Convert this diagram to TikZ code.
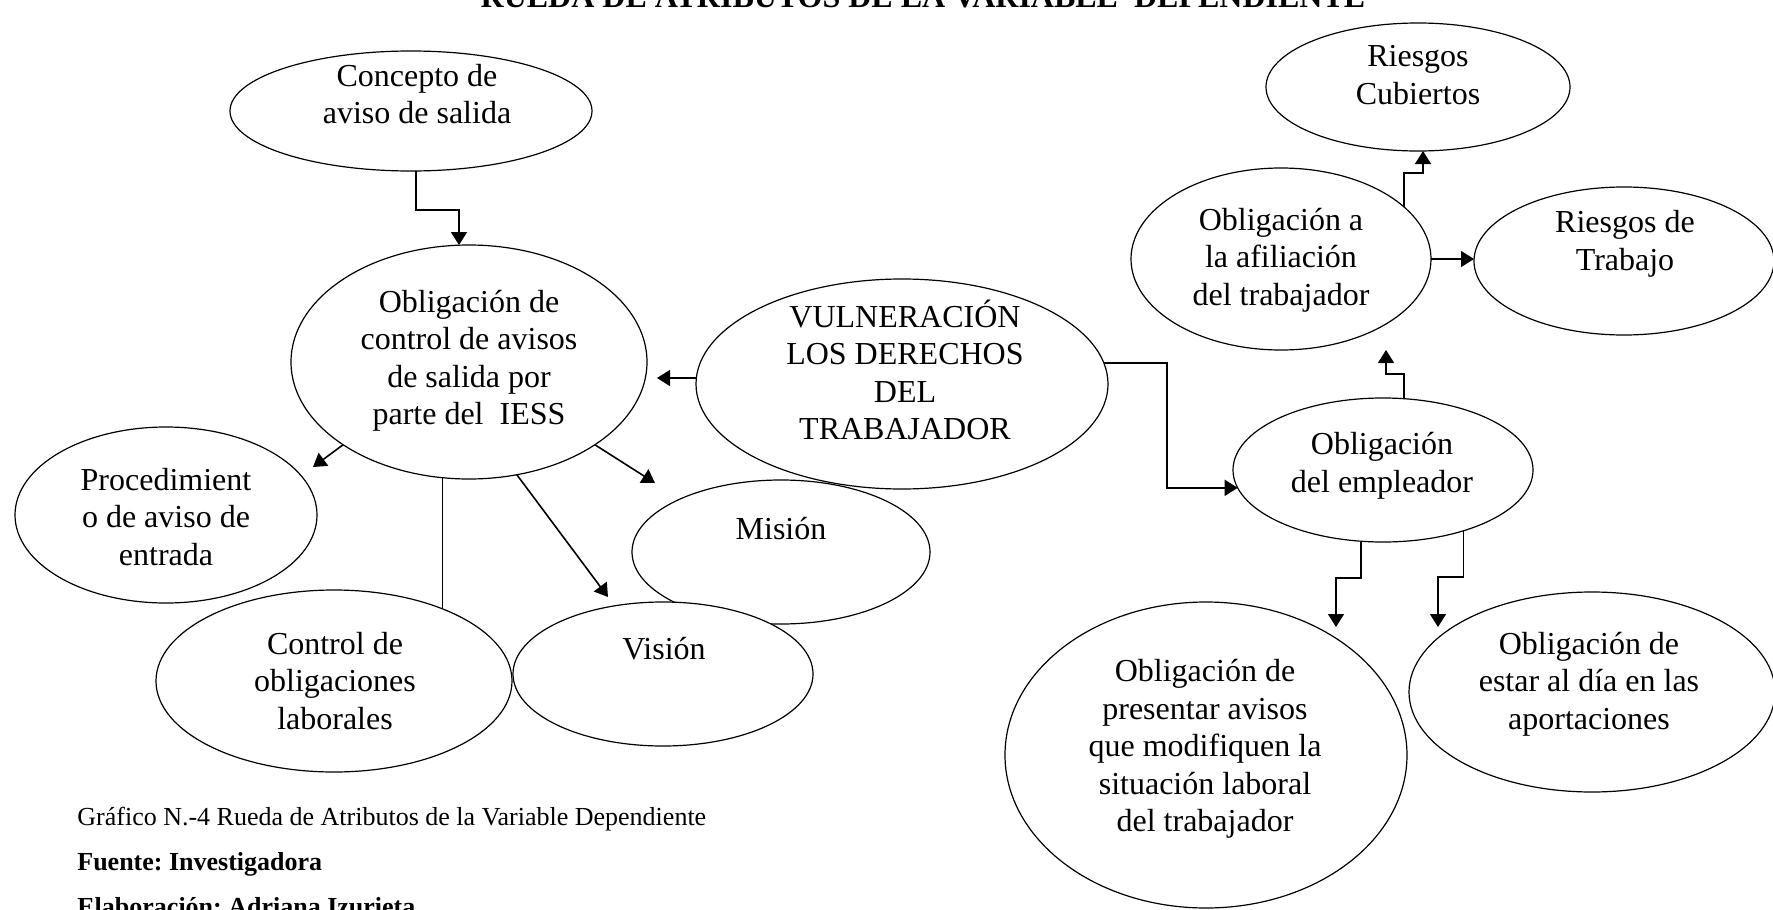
\documentclass[tikz,border=0pt]{standalone}
\usepackage{fontspec}
\setmainfont{Liberation Serif}
\usetikzlibrary{shapes.geometric,arrows.meta,calc}
\frenchspacing

\begin{document}
\begin{tikzpicture}[x=0.5pt,y=0.5pt,yscale=-1,xscale=1,
    oval/.style={ellipse,draw,fill=white,line width=0.6pt,inner sep=0pt,outer sep=0pt},
    txt/.style={align=center,inner sep=0pt,font=\fontsize{16}{18.75}\selectfont},
    conn/.style={line width=0.8pt,-{Triangle[length=6.5pt,width=8pt]}},
    pie/.style={anchor=base west,inner sep=0pt,font=\fontsize{13}{15.6}\selectfont}]
\useasboundingbox (0,0) rectangle (1773,910);
\clip (0,0) rectangle (1773,910);

%Shape: Ellipse
\node[oval,minimum width=181pt,minimum height=60pt] (concepto) at (411,111) {};
\node[oval,minimum width=178pt,minimum height=117pt] (control) at (469,362) {};
\node[oval,minimum width=206pt,minimum height=105pt] (vuln) at (902,384) {};
\node[oval,minimum width=151pt,minimum height=88pt] (proced) at (166,515) {};
\node[oval,minimum width=149pt,minimum height=72pt] (mision) at (781,552) {};
\node[oval,minimum width=150pt,minimum height=72pt] (vision) at (663,674) {};
\node[oval,minimum width=178pt,minimum height=91pt] (ctrlobl) at (334,681) {};
\node[oval,minimum width=152pt,minimum height=64pt] (cubiertos) at (1418,87) {};
\node[oval,minimum width=150pt,minimum height=91pt] (afil) at (1281,259) {};
\node[oval,minimum width=150pt,minimum height=74pt] (trabajo) at (1624,261) {};
\node[oval,minimum width=150pt,minimum height=72pt] (empleador) at (1383,470) {};
\node[oval,minimum width=201pt,minimum height=153pt] (presentar) at (1206,755) {};
\node[oval,minimum width=183pt,minimum height=100pt] (estar) at (1592,692) {};

% Text Node
\node[txt] (tConcepto) at (417,94) {Concepto de\\aviso de salida};
\node[txt] (tControl) at (469,361) {Obligación de\\control de avisos\\de salida por\\parte del~ IESS};
\node[txt] (tVuln) at (905,370) {VULNERACIÓN\\LOS DERECHOS\\DEL\\TRABAJADOR};
\node[txt] (tProced) at (166,517) {Procedimient\\o de aviso de\\entrada};
\node[txt] (tMision) at (781,529) {Misión};
\node[txt] (tVision) at (664,649) {Visión};
\node[txt] (tCtrlobl) at (335,681) {Control de\\obligaciones\\laborales};
\node[txt] (tCubiertos) at (1418,75) {Riesgos\\Cubiertos};
\node[txt] (tAfil) at (1281,260) {Obligación a\\la afiliación\\del trabajador};
\node[txt] (tTrabajo) at (1625,244) {Riesgos de\\Trabajo};
\node[txt] (tEmpleador) at (1382,466) {Obligación\\del empleador};
\node[txt] (tPresentar) at (1205,749) {Obligación de\\presentar avisos\\que modifiquen la\\situación laboral\\del trabajador};
\node[txt] (tEstar) at (1589,684) {Obligación de\\estar al día en las\\aportaciones};

%Free ends
\coordinate (pControl) at (657,378);
\coordinate (pProced) at (313,467);
\coordinate (pMision) at (655,483);
\coordinate (pVision) at (608,597);
\coordinate (pAfil) at (1386,350);
\coordinate (pPresentar) at (1336,627);
\coordinate (pEstar) at (1438,627);

%Straight Lines
\draw[conn] ($(concepto.south)+(5,0)$) -- ++(0,39) -| ($(control.north)+(-10,0)$);
\draw[conn] ($(vuln.west)+(0,-6)$) -- (pControl);
\draw[conn] (control.south west) -- (pProced);
\draw[conn] (control.south east) -- (pMision);
\draw[conn] (control.-67) -- (pVision);
\draw[line width=0.8pt] (control.-103) -- (control.-103 |- ctrlobl.34);
\draw[conn] (vuln.6) -- ++(63,0) |- (empleador.187);
\draw[conn] (afil.23) -- ++(0,-34) -| ($(cubiertos.south)+(5,0)$);
\draw[conn] (afil.east) -- (afil.east -| trabajo.west);
\draw[conn] ($(empleador.north)+(21,1)$) -- ++(0,-25) -| (pAfil);
\draw[conn] ($(empleador.south)+(-22,0)$) -- ++(0,36) -| (pPresentar);
\draw[conn] (empleador.-37) -- ++(0,46) -| (pEstar);

% Text Node
\node[anchor=base,inner sep=0pt,font=\bfseries\fontsize{16}{19}\selectfont] (titulo) at (923,8) {RUEDA DE ATRIBUTOS DE LA VARIABLE~ DEPENDIENTE};
\node[pie] (grafico) at (77,825) {Gráfico N.-4 Rueda de Atributos de la Variable Dependiente};
\node[pie,font=\bfseries\fontsize{13}{15.6}\selectfont] (fuente) at (77,870) {Fuente: Investigadora};
\node[pie,font=\bfseries\fontsize{13}{15.6}\selectfont] (elab) at (77,915) {Elaboración: Adriana Izurieta};

\end{tikzpicture}
\end{document}
